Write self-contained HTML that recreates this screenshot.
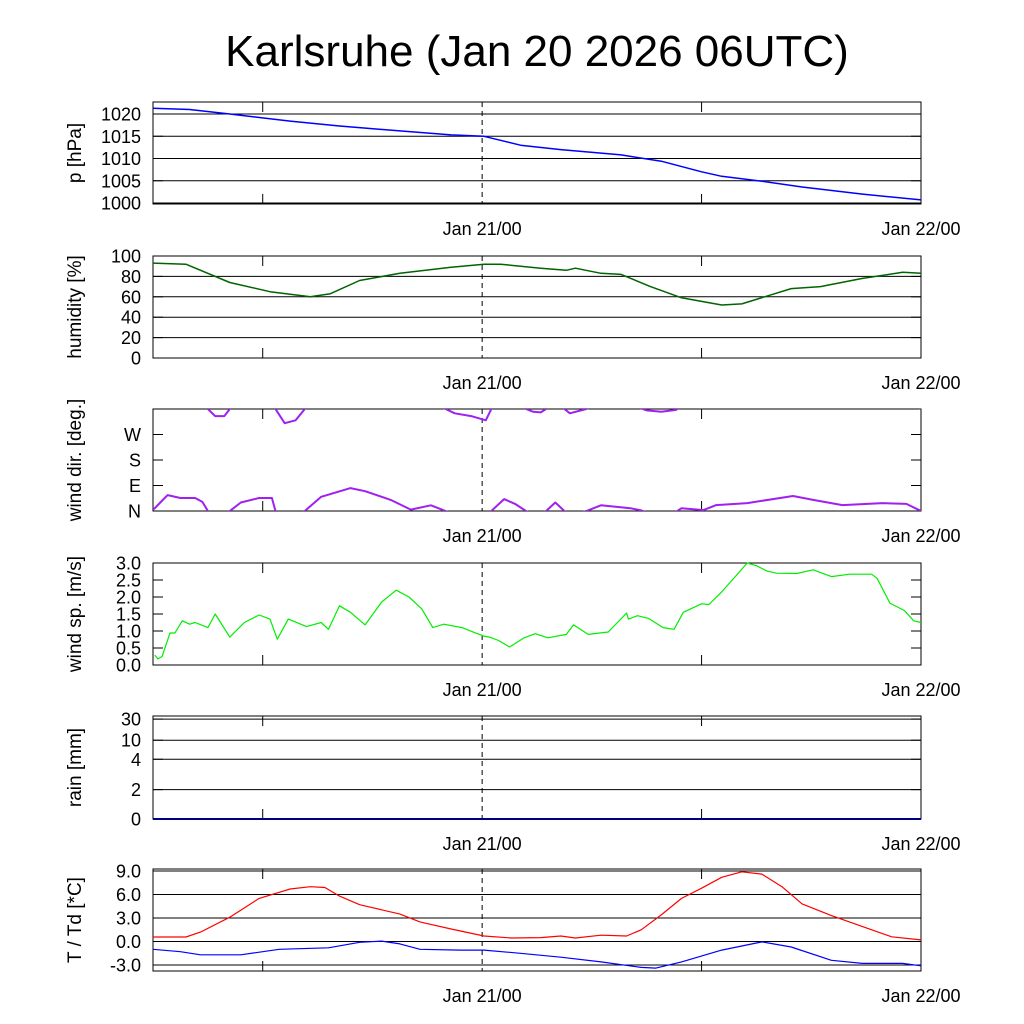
<!DOCTYPE html>
<html><head><meta charset="utf-8"><style>
html,body{margin:0;padding:0;background:#fff}
svg{display:block;font-family:"Liberation Sans",sans-serif}
</style></head><body>
<svg id="chart" width="1024" height="1024" viewBox="0 0 1024 1024">
<defs><clipPath id="dirclip"><rect x="153" y="409" width="768" height="102"/></clipPath></defs>
<text x="537" y="66" font-size="44" text-anchor="middle">Karlsruhe (Jan 20 2026 06UTC)</text>
</svg>
<script>
// time in hours since Jan 20 06UTC
const xTickLabels = ["Jan 21/00","Jan 22/00"];
const xTickHours = [18, 42];
const xMinorHours = [6, 18, 30];

const pHours = [0,2,4.2,7.5,10.2,13.5,16.3,18.1,20.1,22.3,25.6,27.8,30,31.1,33.3,35.5,38.8,42];
const pVals = [1021.3,1021,1020,1018.4,1017.3,1016.2,1015.3,1015,1013,1012,1010.8,1009.4,1007,1006,1004.9,1003.6,1002,1000.7];
const pTicks = [1000,1005,1010,1015,1020];

const hHours = [0,1.8,4.2,6.4,8.6,9.7,11.3,13.5,16.3,18.1,19,21.2,22.6,23.1,24.5,25.6,27.2,28.9,31.1,32.2,33.8,34.9,36.5,38.8,41,42];
const hVals = [93,92,74,65,60,63,76,83,89,92,92,88,86,88,83,82,70,59,52,53,62,68,70,78,84,83];
const hTicks = [0,20,40,60,80,100];

const dHours = [0,0.1,0.4,0.8,1.5,2.3,2.7,3.0,3.4,3.9,4.2,4.8,5.8,6.5,6.7,7.2,7.8,8.3,9.2,10.8,11.6,13.0,14.1,15.2,16,16.5,17.4,18.2,18.5,19.2,19.8,20.4,20.8,21.2,21.5,22,22.5,22.8,23.4,23.7,24.5,25.3,26.1,26.7,27,27.8,28.6,28.9,30.1,30.8,32.5,35,36.1,37.7,39.9,41.2,42];
const dVals = [5,10,30,56,46,46,32,0,-25,-25,0,30,46,46,0,-50,-40,0,50,81,70,39,5,20,0,-15,-25,-40,0,42,25,0,-10,-12,0,30,0,-15,-5,0,20,15,10,2,-5,-10,-3,10,3,21,28,53,39,21,28,25,0];
const dTicks = [0,90,180,270];
const dTickLabels = ["N","E","S","W"];

const wHours = [0.1,0.27,0.5,0.93,1.2,1.6,2.0,2.3,3.0,3.4,4.2,5.0,5.8,6.4,6.8,7.4,8.4,9.2,9.6,10.2,10.8,11.6,12.5,13.3,14.0,14.7,15.3,15.9,16.9,17.6,18.1,18.4,18.9,19.5,20.3,20.9,21.6,22.6,23.0,23.8,24.9,25.9,26.0,26.5,27.1,27.9,28.5,29.0,30.0,30.4,31.1,32.5,33.0,33.6,34.1,35.2,36.1,37.1,38.1,39.3,39.6,40.3,41.1,41.6,42];
const wVals = [0.29,0.18,0.25,0.94,0.94,1.3,1.2,1.25,1.1,1.5,0.82,1.25,1.47,1.35,0.76,1.35,1.13,1.25,1.05,1.74,1.55,1.18,1.85,2.2,2.0,1.65,1.1,1.2,1.1,0.95,0.85,0.82,0.72,0.53,0.8,0.92,0.8,0.9,1.18,0.9,0.97,1.53,1.35,1.45,1.37,1.1,1.05,1.55,1.8,1.78,2.15,3.0,2.92,2.76,2.7,2.69,2.8,2.6,2.67,2.67,2.55,1.82,1.6,1.3,1.25];
const wTicks = [0,0.5,1,1.5,2,2.5,3];
const wTickLabels = ["0.0","0.5","1.0","1.5","2.0","2.5","3.0"];

const rHours = [0,42];
const rVals = [0,0];
const rTicks = [0,2,4,10,30];

const tHours = [0,1.8,2.6,4.2,5.8,7.5,8.6,9.4,10.2,11.3,13.5,14.6,16.3,18.1,19.6,21.2,22.3,23.1,24.5,25.9,26.7,27.8,28.9,30,31.1,32.2,33.3,34.4,35.5,37.1,38.8,40.4,42];
const tVals = [0.57,0.57,1.2,3.1,5.5,6.7,7.0,6.9,5.8,4.7,3.5,2.5,1.6,0.7,0.45,0.5,0.7,0.45,0.8,0.7,1.5,3.4,5.5,6.8,8.2,8.9,8.6,7.0,4.8,3.3,1.9,0.6,0.2];
const tdHours = [0,1.5,2.6,4.8,6,6.9,9.6,11.3,12.5,13.5,14.6,16.8,18.1,20.1,22.3,24.5,26.7,27.5,28.9,31.1,33.3,34.9,37.1,38.8,41,42];
const tdVals = [-1.0,-1.3,-1.7,-1.7,-1.3,-1.0,-0.8,-0.1,0.05,-0.3,-1.0,-1.1,-1.1,-1.5,-2.0,-2.6,-3.3,-3.4,-2.6,-1.1,-0.05,-0.7,-2.4,-2.8,-2.8,-3.1];
const tTicks = [-3,0,3,6,9];
const tTickLabels = ["-3.0","0.0","3.0","6.0","9.0"];

const NS="http://www.w3.org/2000/svg";
const svg=document.getElementById('chart');
const X0=153, X1=921, HMAX=42;
const xs=h=>X0+(X1-X0)*h/HMAX;
function el(tag,attrs,parent){const e=document.createElementNS(NS,tag);for(const k in attrs)e.setAttribute(k,attrs[k]);(parent||svg).appendChild(e);return e;}

function panel(name,top,bot,yfn,ticks,labels,title,grid){
  const g=el('g',{});
  
  
  ticks.forEach((t,i)=>{
    const y=yfn(t);
    if(grid){const l=el('line',{x1:X0,x2:X1,y1:y,y2:y,stroke:'#000','stroke-width':1},g);
      
      }
    el('line',{x1:X0,x2:X0+10,y1:y,y2:y,stroke:'#000'},g);
    el('line',{x1:X1-10,x2:X1,y1:y,y2:y,stroke:'#000'},g);
    const tx=el('text',{x:141,y:y+6.5,'font-size':18,'text-anchor':'end'},g);
    tx.textContent=labels[i];
    
    
  });
  xMinorHours.forEach(h=>{
    const x=xs(h);
    if(h===18){const d=el('line',{x1:x,x2:x,y1:top,y2:bot,stroke:'#000','stroke-dasharray':'5,4'},g);
      
      }
    else{el('line',{x1:x,x2:x,y1:bot,y2:bot-10,stroke:'#000'},g);el('line',{x1:x,x2:x,y1:top,y2:top+10,stroke:'#000'},g);}
  });
  const r=el('rect',{x:X0,y:top,width:X1-X0,height:bot-top,fill:'none',stroke:'#000'},g);
  
  
  xTickHours.forEach((h,i)=>{
    const t=el('text',{x:xs(h),y:bot+31,'font-size':18,'text-anchor':'middle'},g);
    t.textContent=xTickLabels[i];
    
    
  });
  const cy=(top+bot)/2;
  const yt=el('text',{x:0,y:0,'font-size':19,'text-anchor':'middle',transform:`translate(81,${cy}) rotate(-90)`},g);
  yt.textContent=title;
  
  
  return g;
}
function line(g,hs,vs,yfn,color,w,name){
  const d=hs.map((h,i)=>(i?'L':'M')+xs(h).toFixed(1)+','+yfn(vs[i]).toFixed(1)).join('');
  const p=el('path',{d:d,fill:'none',stroke:color,'stroke-width':w,'stroke-linejoin':'round'},g);
  
  
  return p;
}
function lin(v0,v1,p0,p1){return v=>p0+(v-v0)*(p1-p0)/(v1-v0);}

// pressure
const yP=lin(1000,1020,203,114);
let g=panel('pressure',102,204,yP,pTicks,pTicks.map(String),'p [hPa]',true);
line(g,pHours,pVals,yP,'#0000ff',1.5,'pressure-line');
// humidity
const yH=lin(0,100,358,256);
g=panel('humidity',256,358,yH,hTicks,hTicks.map(String),'humidity [%]',true);
line(g,hHours,hVals,yH,'#006400',1.5,'humidity-line');
// wind dir (unwrapped values drawn twice, clipped, to show 0/360 wrap)
const yD=lin(0,360,511,409);
g=panel('wind-dir',409,511,yD,dTicks,dTickLabels,'wind dir. [deg.]',false);
const dg=el('g',{'clip-path':'url(#dirclip)'},g);
line(dg,dHours,dVals,yD,'#a020f0',2,'wind-direction-line');
line(dg,dHours,dVals,v=>yD(v+360),'#a020f0',2,'wind-direction-line-wrapped');
// wind speed
const yW=lin(0,3,665,563);
g=panel('wind-speed',563,665,yW,wTicks,wTickLabels,'wind sp. [m/s]',false);
line(g,wHours,wVals,yW,'#00ee00',1.2,'wind-speed-line');
// rain
const rFrac=[0,0.285,0.58,0.765,0.97];
const yR=v=>{for(let i=1;i<rTicks.length;i++){if(v<=rTicks[i]){const f=(v-rTicks[i-1])/(rTicks[i]-rTicks[i-1]);return 819-(rFrac[i-1]+f*(rFrac[i]-rFrac[i-1]))*103;}}return 716;};
g=panel('rain',716,819,yR,rTicks,rTicks.map(String),'rain [mm]',true);
line(g,rHours,rVals,yR,'#000080',2,'rain-line');
// temperature
const yT=lin(-3,9,965,871);
g=panel('temperature',869,971,yT,tTicks,tTickLabels,'T / Td [*C]',true);
line(g,tHours,tVals,yT,'#ff0000',1.2,'temperature-line');
line(g,tdHours,tdVals,yT,'#0000ff',1.2,'dewpoint-line');
</script>
</body></html>
